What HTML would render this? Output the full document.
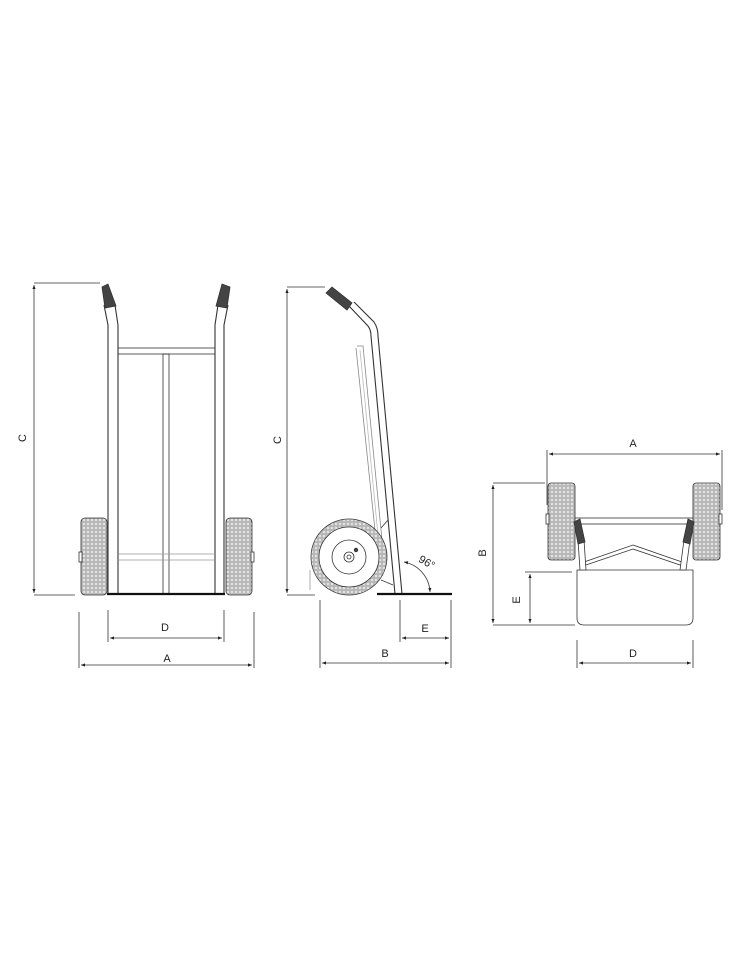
<!DOCTYPE html>
<html><head><meta charset="utf-8"><style>
html,body{margin:0;padding:0;background:#fff;}
svg{display:block;}
text{font-family:"Liberation Sans",sans-serif;font-size:11px;fill:#222;}
</style></head><body>
<svg width="750" height="962" viewBox="0 0 750 962" xmlns="http://www.w3.org/2000/svg">
<defs>
<pattern id="tr" width="4" height="4" patternUnits="userSpaceOnUse">
<rect width="4" height="4" fill="#e6e6e6"/><circle cx="2" cy="2" r="1.2" fill="none" stroke="#777" stroke-width="0.6"/>
</pattern>
<marker id="ar" viewBox="0 0 10 10" refX="10" refY="5" markerWidth="7" markerHeight="5" orient="auto-start-reverse"><path d="M0,1 L10,5 L0,9z" fill="#222"/></marker>
</defs>
<g stroke="#333" stroke-width="0.8" fill="none">
<!-- FRONT VIEW -->
<line x1="34" y1="283" x2="100" y2="283"/>
<line x1="34" y1="595" x2="75" y2="595"/>
<line x1="34" y1="285" x2="34" y2="593" marker-start="url(#ar)" marker-end="url(#ar)"/>
<rect x="81" y="518" width="26" height="77" rx="4" fill="url(#tr)"/>
<rect x="226" y="518" width="26" height="77" rx="4" fill="url(#tr)"/>
<rect x="79" y="552" width="3" height="10" fill="#fff"/>
<rect x="251" y="552" width="3" height="10" fill="#fff"/>
<path d="M108,594 L108,325 L104,305 M118,594 L118,325 L115,305" stroke-width="1.1"/>
<path d="M224,594 L224,325 L228,305 M215,594 L215,325 L218,305" stroke-width="1.1"/>
<path d="M102,287 L108,284 L116,306 L105,308 Z" fill="#444"/>
<path d="M222,284 L230,287 L227,308 L216,306 Z" fill="#444"/>
<rect x="118" y="348" width="97" height="6"/>
<rect x="163" y="354" width="6" height="240"/>
<line x1="118" y1="554" x2="215" y2="554" stroke="#999"/>
<line x1="118" y1="560" x2="215" y2="560" stroke="#999"/>
<line x1="107" y1="594" x2="225" y2="594" stroke-width="2.2" stroke="#111"/>
<line x1="108" y1="610" x2="108" y2="642"/>
<line x1="224" y1="610" x2="224" y2="642"/>
<line x1="110" y1="638" x2="222" y2="638" marker-start="url(#ar)" marker-end="url(#ar)"/>
<line x1="79" y1="612" x2="79" y2="668"/>
<line x1="254" y1="612" x2="254" y2="668"/>
<line x1="81" y1="665" x2="252" y2="665" marker-start="url(#ar)" marker-end="url(#ar)"/>

<!-- SIDE VIEW -->
<line x1="287" y1="287" x2="325" y2="287"/>
<line x1="287" y1="595" x2="315" y2="595"/>
<line x1="287" y1="289" x2="287" y2="593" marker-start="url(#ar)" marker-end="url(#ar)"/>
<path d="M357,346 L363,346 L382,540 M356,348 L376,540" stroke="#888"/>
<line x1="360" y1="350" x2="378" y2="535" stroke="#bbb"/>
<path d="M349,306 L368,326 Q371,330 371,336 L395,594 M354,302 L374,322 Q378,328 378,336 L402,594" stroke-width="1.1"/>
<path d="M326,293 L332,287 L352,303 L347,310 Z" fill="#444"/>
<circle cx="349" cy="557" r="38" fill="url(#tr)"/>
<circle cx="349" cy="557" r="30" fill="#fff"/>
<circle cx="349" cy="557" r="17"/>
<circle cx="349" cy="557" r="5"/>
<circle cx="349" cy="557" r="2"/>
<circle cx="356" cy="550" r="1.8" fill="#444"/>
<path d="M381,528 L388,520 M381,580 L393,585" />
<line x1="310" y1="570" x2="310" y2="590" stroke="#999"/>
<line x1="377" y1="594" x2="452" y2="594" stroke-width="2.2" stroke="#111"/>
<path d="M404,562 A32,32 0 0 1 430,592" marker-start="url(#ar)" marker-end="url(#ar)"/>
<line x1="320" y1="600" x2="320" y2="668"/>
<line x1="451" y1="600" x2="451" y2="668"/>
<line x1="400" y1="600" x2="400" y2="642"/>
<line x1="402" y1="638" x2="449" y2="638" marker-start="url(#ar)" marker-end="url(#ar)"/>
<line x1="322" y1="663" x2="449" y2="663" marker-start="url(#ar)" marker-end="url(#ar)"/>

<!-- TOP VIEW -->
<line x1="547" y1="450" x2="547" y2="505"/>
<line x1="722" y1="450" x2="722" y2="510"/>
<line x1="549" y1="454" x2="720" y2="454" marker-start="url(#ar)" marker-end="url(#ar)"/>
<rect x="548" y="483" width="27" height="77" rx="3" fill="url(#tr)"/>
<rect x="693" y="483" width="27" height="77" rx="3" fill="url(#tr)"/>
<rect x="546" y="514" width="3" height="10" fill="#fff"/>
<rect x="719" y="514" width="3" height="10" fill="#fff"/>
<rect x="575" y="518" width="118" height="6" fill="#fff"/>
<path d="M577,570 L693,570 L693,618 Q693,625 686,625 L584,625 Q577,625 577,618 Z" fill="#fff"/>
<path d="M583,566 L633,549 L683,566 M584,562 L633,545 L682,562" />
<path d="M578,540 L580,570 L586,570 L584,540" fill="#fff"/>
<path d="M690,540 L686,570 L680,570 L684,540" fill="#fff"/>
<path d="M574,522 L580,519 L585,542 L578,544 Z" fill="#444"/>
<path d="M688,519 L694,522 L690,544 L683,542 Z" fill="#444"/>
<line x1="493" y1="483" x2="545" y2="483"/>
<line x1="493" y1="625" x2="575" y2="625"/>
<line x1="493" y1="485" x2="493" y2="623" marker-start="url(#ar)" marker-end="url(#ar)"/>
<line x1="525" y1="572" x2="572" y2="572"/>
<line x1="530" y1="574" x2="530" y2="623" marker-start="url(#ar)" marker-end="url(#ar)"/>
<line x1="577" y1="640" x2="577" y2="668"/>
<line x1="693" y1="640" x2="693" y2="668"/>
<line x1="579" y1="663" x2="691" y2="663" marker-start="url(#ar)" marker-end="url(#ar)"/>
</g>
<text x="23" y="438" transform="rotate(-90 23 438)" text-anchor="middle" dominant-baseline="middle">C</text>
<text x="165" y="631" text-anchor="middle">D</text>
<text x="167" y="662" text-anchor="middle">A</text>
<text x="278" y="440" transform="rotate(-90 278 440)" text-anchor="middle" dominant-baseline="middle">C</text>
<text x="427" y="566" text-anchor="middle" font-size="10" transform="rotate(30 427 562)">96°</text>
<text x="425" y="632" text-anchor="middle">E</text>
<text x="385" y="657" text-anchor="middle">B</text>
<text x="633" y="447" text-anchor="middle">A</text>
<text x="483" y="553" transform="rotate(-90 483 553)" text-anchor="middle" dominant-baseline="middle">B</text>
<text x="517" y="600" transform="rotate(-90 517 600)" text-anchor="middle" dominant-baseline="middle">E</text>
<text x="633" y="657" text-anchor="middle">D</text>
</svg>
</body></html>
